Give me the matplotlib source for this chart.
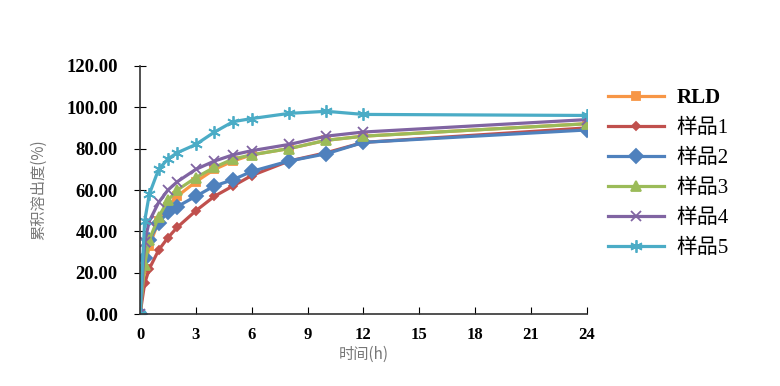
import numpy as np
import matplotlib.pyplot as plt

plt.rcParams['font.family'] = ['Liberation Serif', 'Noto Sans CJK SC', 'DejaVu Sans']

# sampling times (h)
t = [0, 0.25, 0.5, 1, 1.5, 2, 3, 4, 5, 6, 8, 10, 12, 24]

# cumulative dissolution (%)
rld = [0, 22, 33, 45, 52, 57, 64, 70, 74, 77, 80, 84, 86, 92]
s1 = [0, 15, 22, 31, 37, 42, 50, 57, 62, 67, 74, 78, 83, 90]
s2 = [0, 27, 36, 44, 49.5, 52, 57, 62, 65, 69, 74, 77.5, 83, 89]
s3 = [0, 24, 36, 47, 55, 60, 66, 71, 75, 77, 80, 84, 86, 92]
s4 = [0, 35, 45, 54, 60, 64, 70, 74, 77, 79, 82, 86, 88, 94]
s5 = [0, 45, 58, 70, 75, 78, 82, 88, 93, 94.5, 97, 98, 96.5, 96]

names = ['RLD', '样品1', '样品2', '样品3', '样品4', '样品5']
series = [rld, s1, s2, s3, s4, s5]
colors = ['#F79646', '#C0504D', '#4F81BD', '#9BBB59', '#8064A2', '#4BACC6']
markers = ['s', 'D', 'D', '^', 'x', (6, 2, 0)]
msizes = [6, 4, 7, 7, 7, 9]

fig = plt.figure(figsize=(7.8, 3.86), dpi=100)
ax = fig.add_axes([0.1795, 0.1857, 0.573, 0.644])

for name, y, c, m, ms in zip(names, series, colors, markers, msizes):
    ax.plot(t, y, color=c, lw=2.3, marker=m, ms=ms, mec=c, mfc=c, mew=1.3, label=name)

ax.set_xlim(0, 24)
ax.set_ylim(0, 120)
ax.set_xticks(range(0, 25, 3))
ax.set_yticks(range(0, 121, 20))
ax.set_yticklabels(['%.2f' % v for v in range(0, 121, 20)])
for s in ['top', 'right']:
    ax.spines[s].set_visible(False)
for s in ['left', 'bottom']:
    ax.spines[s].set_color('#333333')
    ax.spines[s].set_linewidth(1.2)
ax.tick_params(axis='x', direction='in', length=5, pad=9, labelsize=12)
ax.tick_params(axis='y', direction='inout', length=8, pad=12, labelsize=13.5)
for lb in ax.get_xticklabels() + ax.get_yticklabels():
    lb.set_fontweight('bold')

ax.set_ylabel('累积溶出度(%)', color='#777777', fontsize=11,
              family=['Noto Sans CJK SC'], labelpad=14)
ax.set_xlabel('时间(h)', color='#777777', fontsize=11,
              family=['Noto Sans CJK SC', 'Liberation Serif'], labelpad=2)

leg = ax.legend(loc='upper left', bbox_to_anchor=(1.005, 0.985), frameon=False,
                handlelength=2.7, labelspacing=0.5, handletextpad=0.6,
                prop={'family': ['Liberation Serif', 'Noto Sans CJK SC'], 'size': 15})
leg.get_texts()[0].set_fontweight('bold')

fig.savefig('out.png', dpi=100)
